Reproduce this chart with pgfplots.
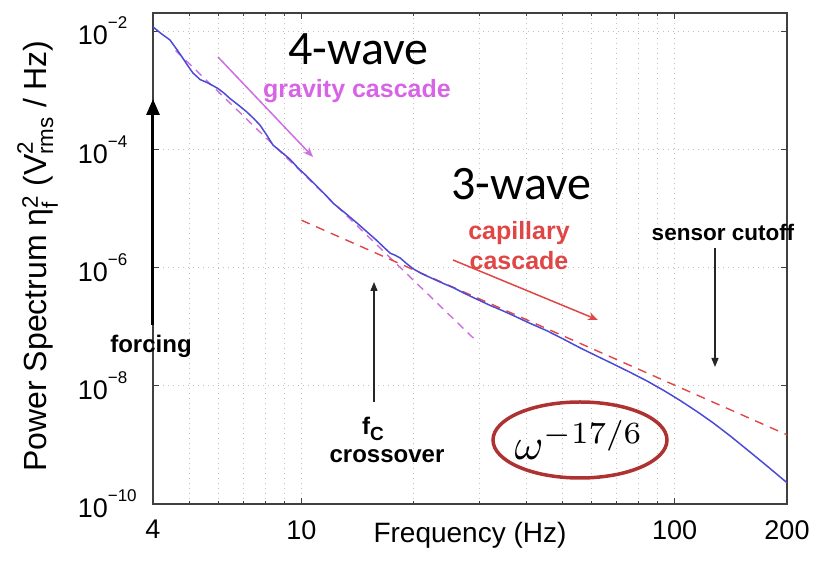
\documentclass[border=0pt]{standalone}
\usepackage{fontspec}
\setmainfont{Liberation Sans}
\newfontfamily\calibri{Carlito}
\usepackage{amsmath}
\usepackage{graphicx}
\usepackage{pgfplots}
\pgfplotsset{compat=1.18}
\usetikzlibrary{arrows.meta}
\definecolor{specblue}{RGB}{75,75,215}
\definecolor{gravmag}{RGB}{205,110,225}
\definecolor{gravtext}{RGB}{215,100,230}
\definecolor{capred}{RGB}{225,70,70}
\definecolor{ovalred}{RGB}{175,50,50}
\newcommand{\ylab}[1]{\makebox[69pt][l]{\fontsize{27}{27}\selectfont 10\raisebox{16pt}{\fontsize{17}{17}\selectfont −#1}}}
\begin{document}
\begin{tikzpicture}
\begin{scope}[shift={(-153pt,504pt)}, x=1pt, y=-1pt]
\path[use as bounding box] (0,0) rectangle (815,569);
\end{scope}
\begin{axis}[
 at={(0,0)}, anchor=south west,
 scale only axis, width=634pt, height=491pt,
 xmode=log, ymode=log,
 xmin=4, xmax=200, ymin=1e-10, ymax=0.0202,
 xtick={4,10,100,200}, xticklabels={4,10,100,200},
 minor xtick={5,6,7,8,9,20,30,40,50,60,70,80,90},
 ytick={1e-10,1e-8,1e-6,1e-4,1e-2},
 yticklabels={\ylab{10},\ylab{8},\ylab{6},\ylab{4},\ylab{2}},
 yminorticks=false,
 tick align=inside,
 major tick length=6pt, minor tick length=3.5pt,
 xmajorgrids, xminorgrids, ymajorgrids,
 grid style={gray!50, line width=0.9pt, dash pattern=on 1.3pt off 3.7pt},
 minor grid style={gray!50, line width=0.9pt, dash pattern=on 1.3pt off 3.7pt},
 axis line style={line width=1.1pt, black!75},
 every tick/.style={line width=0.9pt, black!75},
 xticklabel style={font=\fontsize{27}{27}\selectfont, inner sep=0pt, anchor=north, yshift=-16pt},
 yticklabel style={inner sep=0pt, anchor=east, xshift=-6pt},
]
\addplot[gravmag, line width=1.4pt, dash pattern=on 8pt off 6pt] coordinates {(4.6,4.68e-3) (29.7,5.4e-8)};
\addplot[capred, line width=1.4pt, dash pattern=on 9pt off 7pt] coordinates {(10,6.31e-6) (200,1.48e-9)};
\addplot[specblue, line width=1.5pt] coordinates {
(4.0,1.175e-2) (4.2,9.12e-3) (4.44,7.08e-3) (4.62,5.01e-3) (4.81,3.47e-3)
(5.0,2.40e-3) (5.12,1.95e-3) (5.35,1.51e-3) (5.62,1.32e-3) (5.97,1.07e-3)
(6.2,8.91e-4) (6.43,7.24e-4) (6.8,5.50e-4) (7.14,4.27e-4) (7.45,3.31e-4)
(7.74,2.57e-4) (8.05,1.78e-4) (8.39,1.175e-4) (8.85,8.91e-5) (9.32,6.76e-5)
(9.8,4.79e-5) (10.35,3.47e-5) (10.9,2.51e-5) (11.43,1.86e-5) (12.2,1.20e-5)
(13.1,8.32e-6) (14.1,5.62e-6) (15.0,3.98e-6) (15.9,2.88e-6) (16.7,2.14e-6)
(17.3,1.74e-6) (17.8,1.62e-6) (18.4,1.445e-6) (19.1,1.175e-6) (19.9,9.55e-7)
(21.1,7.76e-7) (22.5,6.46e-7) (24.0,5.37e-7) (25.5,4.57e-7) (27.2,3.72e-7)
(28.9,3.09e-7) (30.1,2.75e-7) (32.0,2.29e-7) (34.3,1.905e-7) (36.9,1.55e-7)
(40.5,1.175e-7) (45.5,8.51e-8) (50.3,6.17e-8) (55.8,4.37e-8) (61.5,3.24e-8)
(68.4,2.34e-8) (75.8,1.70e-8) (84.4,1.20e-8) (93.5,8.32e-9) (103.5,5.62e-9)
(115,3.63e-9) (127,2.34e-9) (141,1.41e-9) (157,8.13e-10) (177,4.37e-10)
(200,2.29e-10)};
\end{axis}
\begin{scope}[shift={(-153pt,504pt)}, x=1pt, y=-1pt]
% axis labels
\node[font=\fontsize{28}{28}\selectfont, anchor=base] at (470,543) {Frequency (Hz)};
\node[font=\fontsize{32}{32}\selectfont, anchor=base, rotate=90] at (47,256)
 {Power Spectrum $\text{η}^{\text{2}}_{\text{f}}$ ($\text{V}^{\text{2}}_{\text{rms}}$ / Hz)};
% annotations
\node[font=\calibri\fontsize{48}{48}\selectfont, anchor=base west, inner sep=0pt] at (288,65) {4-wave};
\node[font=\calibri\fontsize{48}{48}\selectfont, anchor=base west, inner sep=0pt] at (451,200) {3-wave};
\node[font=\bfseries\fontsize{25}{25}\selectfont, text=gravtext, anchor=base] at (357,98) {gravity cascade};
\node[font=\bfseries\fontsize{25}{25}\selectfont, text=capred, anchor=base] at (519,240) {capillary};
\node[font=\bfseries\fontsize{25}{25}\selectfont, text=capred, anchor=base] at (519,270) {cascade};
\node[font=\bfseries\fontsize{22.5}{22.5}\selectfont, anchor=base] at (723,241) {sensor cutoff};
\node[font=\bfseries\fontsize{24}{24}\selectfont, anchor=base] at (151,353) {forcing};
\node[font=\bfseries\fontsize{24}{24}\selectfont, anchor=base] at (387,463) {crossover};
\node[font=\bfseries\fontsize{24}{24}\selectfont, anchor=base west, inner sep=0pt] at (362,435) {f\raisebox{-6pt}{\fontsize{19}{19}\selectfont C}};
% arrows
\draw[gravmag, line width=1.5pt, -{Stealth[length=10pt,width=8pt]}] (218,57) -- (313,157);
\draw[capred, line width=1.5pt, -{Stealth[length=10pt,width=8pt]}] (453,260) -- (598,320);
\draw[black, line width=3pt, -{Triangle[length=16pt,width=13pt]}] (153,325) -- (153,99);
\draw[black!85, line width=1.3pt, -{Triangle[length=9pt,width=7pt]}] (374,402) -- (374,282);
\draw[black!85, line width=1.3pt, -{Triangle[length=9pt,width=7pt]}] (715,248) -- (715,367);
% oval
\draw[ovalred, line width=3.5pt] (580,440) ellipse [x radius=87, y radius=38];
\node[inner sep=0pt] at (579,440) {\scalebox{4.4}{$\omega^{-17/6}$}};
\end{scope}
\end{tikzpicture}
\end{document}
